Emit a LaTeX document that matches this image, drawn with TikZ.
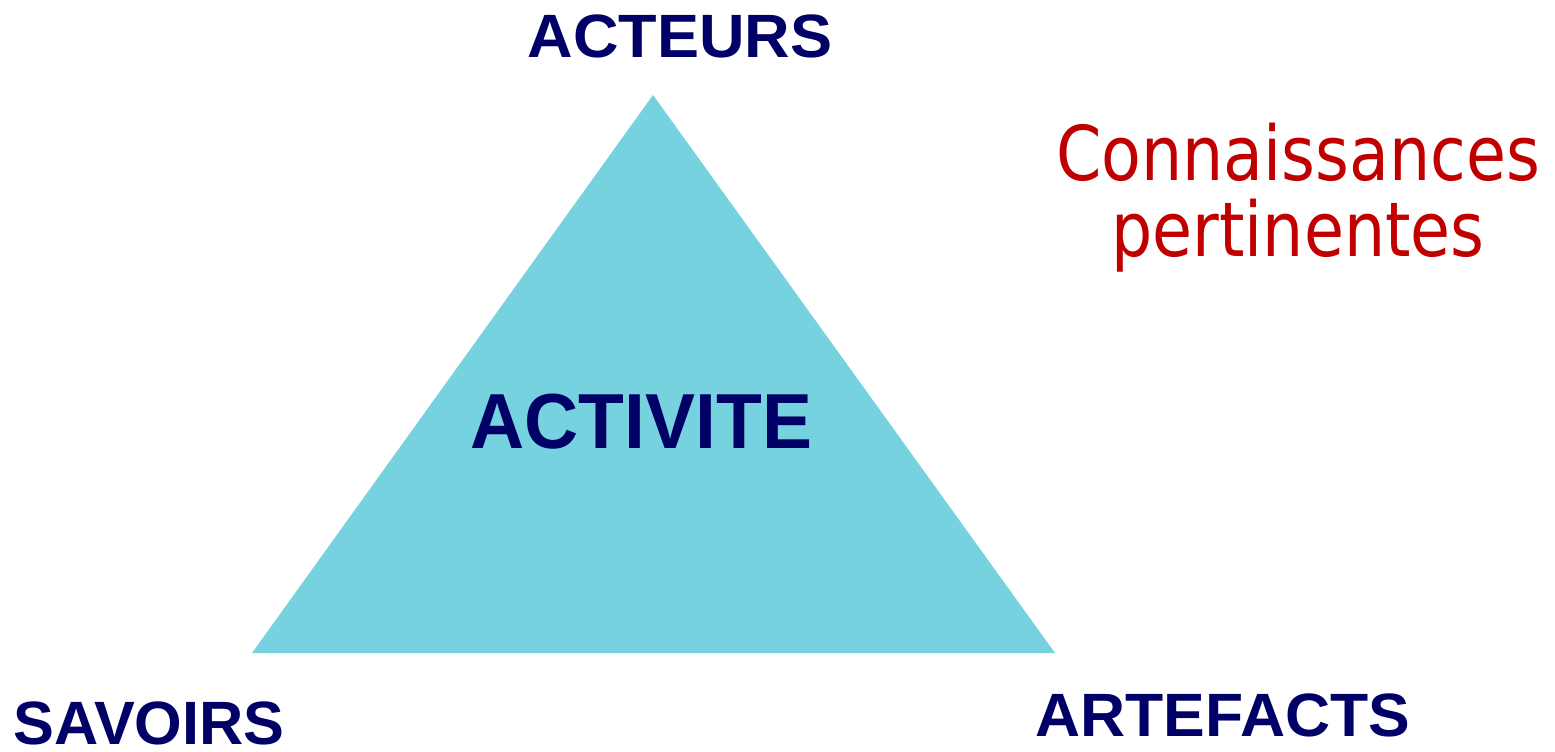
\documentclass[tikz,border=0pt]{standalone}
\usepackage{fontspec}
\setmainfont{Liberation Sans}
\newfontfamily\tahomalike{DejaVu Sans}
\definecolor{navy}{HTML}{000066}
\definecolor{tri}{HTML}{76D2DF}
\definecolor{redtxt}{HTML}{C00000}
\tikzset{
  lbl/.style={text=navy, font=\fontsize{17.4pt}{20pt}\selectfont\bfseries, inner sep=0pt, anchor=base west},
  big/.style={text=navy, font=\fontsize{22.2pt}{26pt}\selectfont\bfseries, inner sep=0pt, anchor=base west},
  red/.style={text=redtxt, font=\tahomalike\fontsize{21.5pt}{21.6pt}\selectfont, inner sep=0pt, align=center}
}
\begin{document}
\begin{tikzpicture}[x=0.01cm,y=-0.01cm]
\useasboundingbox (0,0) rectangle (1555,751);
\coordinate (top) at (653,95);
\coordinate (bl) at (252,653);
\coordinate (br) at (1055,653);
\fill[tri] (top) -- (bl) -- (br) -- cycle;
\node[lbl, xscale=1.03] (acteurs) at (527,57) {ACTEURS};
\node[big, xscale=0.96] (activite) at (470,448) {ACTIVITE};
\node[lbl] (savoirs) at (13,744) {SAVOIRS};
\node[lbl, xscale=1.02] (artefacts) at (1035,736) {ARTEFACTS};
\node[red, xscale=0.86] (conn) at (1298,198) {Connaissances\\pertinentes};
\end{tikzpicture}
\end{document}
